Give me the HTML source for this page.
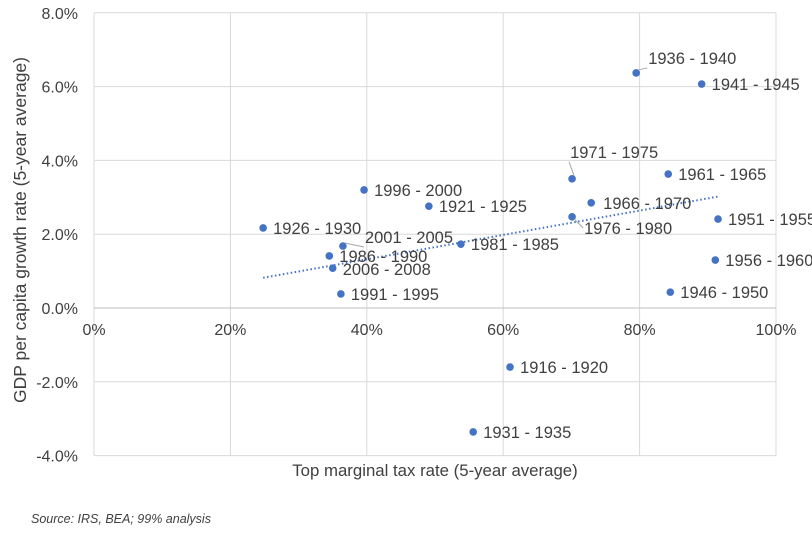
<!DOCTYPE html>
<html><head><meta charset="utf-8"><style>
body{margin:0;background:#fff;}
svg text{font-family:"Liberation Sans",sans-serif;fill:#404040;}
</style></head><body>
<svg id="chart" width="812" height="533" xmlns="http://www.w3.org/2000/svg"></svg>
<script>
const periods=["1916 - 1920","1921 - 1925","1926 - 1930","1931 - 1935","1936 - 1940","1941 - 1945","1946 - 1950","1951 - 1955","1956 - 1960","1961 - 1965","1966 - 1970","1971 - 1975","1976 - 1980","1981 - 1985","1986 - 1990","1991 - 1995","1996 - 2000","2001 - 2005","2006 - 2008"];
const taxRates=[61.0,49.1,24.8,55.6,79.5,89.1,84.5,91.5,91.1,84.2,72.9,70.1,70.1,53.8,34.5,36.2,39.6,36.5,35.0];
const growthRates=[-1.60,2.76,2.17,-3.36,6.37,6.07,0.43,2.41,1.30,3.63,2.85,3.50,2.47,1.73,1.41,0.38,3.20,1.68,1.08];
const xTicks=[0,20,40,60,80,100];
const yTicks=[-4,-2,0,2,4,6,8];
const trendIntercept=0.0, trendSlope=0.033;
// label placement (style, not data): [dx,dy,leader]
const labelPos={"1936 - 1940":[12,-9,1],"1971 - 1975":[-2,-21,1],"2001 - 2005":[22,-3,1],"1976 - 1980":[12,17,1],"1966 - 1970":[12,6,0],"1986 - 1990":[10,6,0],"2006 - 2008":[10,7,0]};
const X=v=>94+v/100*682, Y=v=>308-v*36.9;
const svg=document.getElementById('chart'), NS="http://www.w3.org/2000/svg";
function mk(t,a,p){const e=document.createElementNS(NS,t);for(const k in a)e.setAttribute(k,a[k]);(p||svg).appendChild(e);return e;}
xTicks.forEach(v=>{const l=mk('line',{x1:X(v),x2:X(v),y1:Y(8),y2:Y(-4),stroke:'#d9d9d9'});


const t=mk('text',{x:X(v),y:Y(0)+27,'text-anchor':'middle','font-size':16});t.textContent=v+'%';

});
yTicks.forEach(v=>{const l=mk('line',{x1:X(0),x2:X(100),y1:Y(v),y2:Y(v),stroke:v===0?'#bfbfbf':'#d9d9d9'});


const t=mk('text',{x:78,y:Y(v)+6,'text-anchor':'end','font-size':16});t.textContent=v.toFixed(1)+'%';

});
const xmin=Math.min(...taxRates),xmax=Math.max(...taxRates);
const tr=mk('line',{x1:X(xmin),y1:Y(trendIntercept+trendSlope*xmin),x2:X(xmax),y2:Y(trendIntercept+trendSlope*xmax),stroke:'#4472c4','stroke-width':2,'stroke-dasharray':'1.5,2.5'});


periods.forEach((p,i)=>{const cx=X(taxRates[i]),cy=Y(growthRates[i]);
const c=mk('circle',{cx,cy,r:3.8,fill:'#4472c4'});


const lp=labelPos[p]||[10,6,0];
const tx=cx+lp[0],ty=cy+lp[1];
if(lp[2]){const ll=mk('line',{x1:cx+2,y1:cy+(lp[1]<0?-3:2),x2:tx-1,y2:ty+(lp[1]<0?4:-6),stroke:'#a6a6a6'});

}
const t=mk('text',{x:tx,y:ty,'font-size':16.5});t.textContent=p;

});
let t=mk('text',{x:435,y:476,'text-anchor':'middle','font-size':16.8});t.textContent='Top marginal tax rate (5-year average)';


t=mk('text',{x:0,y:0,'text-anchor':'middle','font-size':17.5,transform:'translate(26,230) rotate(-90)'});t.textContent='GDP per capita growth rate (5-year average)';


t=mk('text',{x:31,y:523,'font-size':12.5,'font-style':'italic',fill:'#000'});t.textContent='Source: IRS, BEA; 99% analysis';


</script></body></html>
